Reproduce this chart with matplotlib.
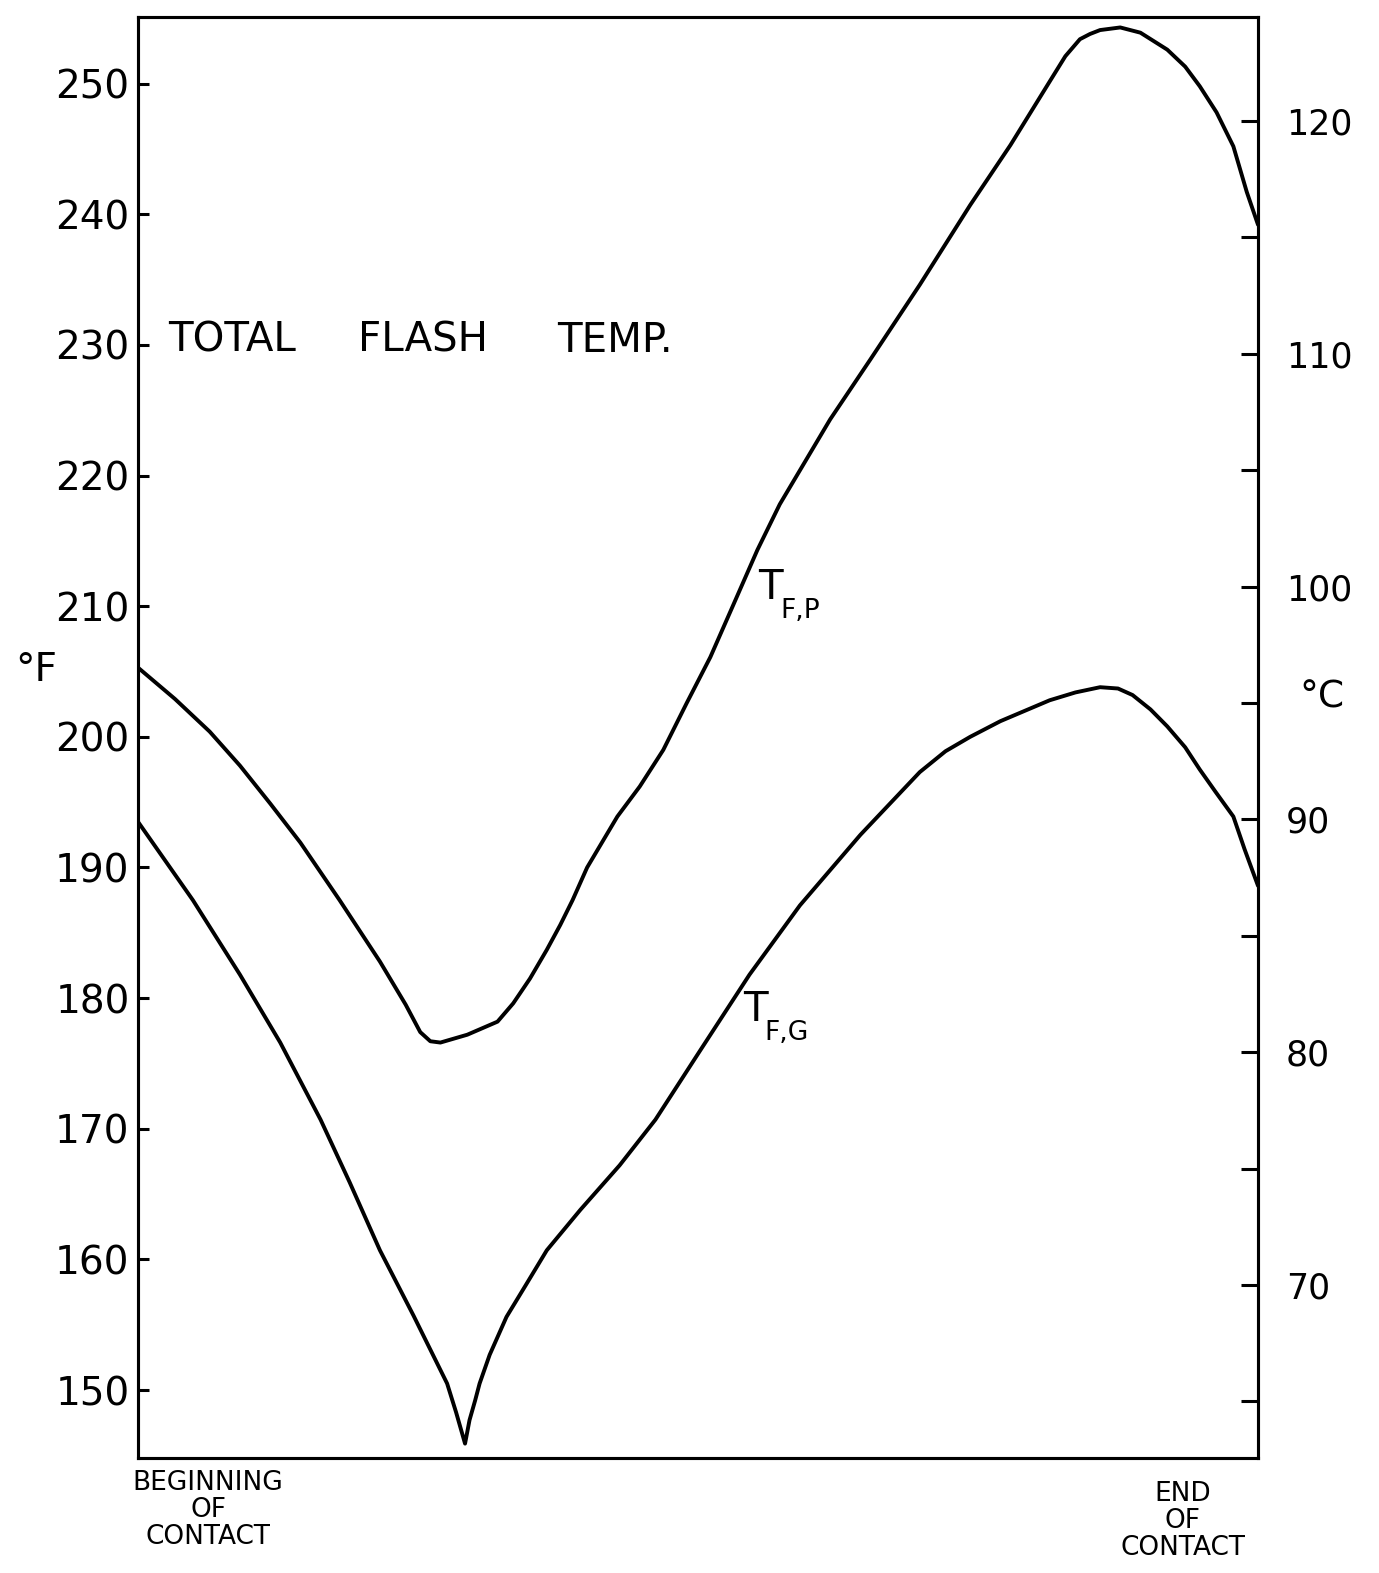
import numpy as np
import matplotlib
matplotlib.use("Agg")
import matplotlib.pyplot as plt

# --- data (x: 0 = beginning, 1 = end of contact) ---
tfp_x = [0.000, 0.033, 0.064, 0.091, 0.118, 0.145, 0.180, 0.216, 0.239, 0.252,
         0.261, 0.270, 0.294, 0.321, 0.335, 0.350, 0.365, 0.377, 0.388, 0.401,
         0.428, 0.448, 0.469, 0.490, 0.511, 0.531, 0.553, 0.573, 0.591, 0.618,
         0.654, 0.698, 0.743, 0.779, 0.815, 0.828, 0.841, 0.850, 0.859, 0.877,
         0.895, 0.919, 0.935, 0.948, 0.963, 0.978, 0.990, 1.000]
tfp_F = [205.3, 202.9, 200.4, 197.8, 194.9, 191.9, 187.5, 182.8, 179.5, 177.4,
         176.7, 176.6, 177.2, 178.2, 179.6, 181.5, 183.7, 185.6, 187.5, 190.0,
         193.9, 196.2, 199.0, 202.6, 206.1, 210.0, 214.3, 217.8, 220.4, 224.3,
         228.9, 234.6, 240.7, 245.3, 250.3, 252.1, 253.4, 253.8, 254.1, 254.3,
         253.9, 252.6, 251.3, 249.8, 247.8, 245.2, 241.7, 239.2]

tfg_x = [0.000, 0.049, 0.091, 0.127, 0.163, 0.189, 0.216, 0.246, 0.261, 0.276,
         0.284, 0.292, 0.296, 0.301, 0.305, 0.314, 0.329, 0.346, 0.365, 0.395,
         0.430, 0.462, 0.502, 0.546, 0.591, 0.645, 0.698, 0.721, 0.743, 0.770,
         0.814, 0.837, 0.859, 0.875, 0.888, 0.904, 0.919, 0.935, 0.948, 0.962,
         0.978, 0.988, 1.000]
tfg_F = [193.5, 187.5, 181.8, 176.6, 170.7, 165.9, 160.7, 155.7, 153.1, 150.5,
         148.3, 145.9, 147.7, 149.2, 150.5, 152.7, 155.6, 158.0, 160.7, 163.8,
         167.2, 170.7, 176.0, 181.8, 187.1, 192.5, 197.3, 198.9, 200.0, 201.2,
         202.8, 203.4, 203.8, 203.7, 203.2, 202.1, 200.8, 199.2, 197.5, 195.8,
         193.9, 191.4, 188.6]

f_ticks = list(range(150, 251, 10))
c_major = list(range(70, 121, 10))
c_minor = list(range(65, 120, 10))

title_words = ["TOTAL", "FLASH", "TEMP."]
bottom_labels = ["BEGINNING\nOF\nCONTACT", "END\nOF\nCONTACT"]

W, H = 1379, 1573
fig = plt.figure(figsize=(W / 100, H / 100), dpi=100)
ax = fig.add_axes([138 / W, 1 - 1458 / H, 1120 / W, 1441 / H])


def px(x, y):
    # pixel position -> figure fraction
    return x / W, 1 - y / H


ax.plot(tfp_x, tfp_F, color="black", lw=2.8, solid_capstyle="round", solid_joinstyle="round")
ax.plot(tfg_x, tfg_F, color="black", lw=2.8, solid_capstyle="round", solid_joinstyle="round")

ax.set_xlim(0, 1)
ax.set_ylim(144.8, 255.1)
ax.set_xticks([])
ax.set_yticks(f_ticks)
ax.set_yticklabels([str(t) for t in f_ticks])
ax.tick_params(axis="y", direction="in", length=8, width=2.2, labelsize=28, pad=6)
for s in ax.spines.values():
    s.set_linewidth(2.2)

# right-hand celsius axis
ax2 = ax.twinx()
ax2.set_ylim(62.57, 124.47)
ax2.set_yticks(c_major)
ax2.set_yticklabels([str(t) for t in c_major])
ax2.set_yticks(c_minor, minor=True)
ax2.tick_params(axis="y", which="both", direction="in", length=12, width=2.2,
                labelsize=25, pad=20)
for s in ax2.spines.values():
    s.set_linewidth(2.2)

# --- text ---
for word, x0 in zip(title_words, [168, 358, 557]):
    fig.text(*px(x0, 341), word, fontsize=29, ha="left", va="center")

fig.text(*px(758, 588), "T", fontsize=29, ha="left", va="center")
fig.text(*px(780, 611), "F,P", fontsize=19, ha="left", va="center")
fig.text(*px(743, 1010), "T", fontsize=29, ha="left", va="center")
fig.text(*px(764, 1033), "F,G", fontsize=19, ha="left", va="center")

fig.text(*px(36, 670), "°F", fontsize=28, ha="center", va="center")
fig.text(*px(1322, 697), "°C", fontsize=27, ha="center", va="center")

fig.text(*px(208, 1510), bottom_labels[0], fontsize=19, ha="center", va="center",
         linespacing=1.05)
fig.text(*px(1183, 1521), bottom_labels[1], fontsize=19, ha="center", va="center",
         linespacing=1.05)

fig.savefig("out.png", dpi=100, facecolor="white")
